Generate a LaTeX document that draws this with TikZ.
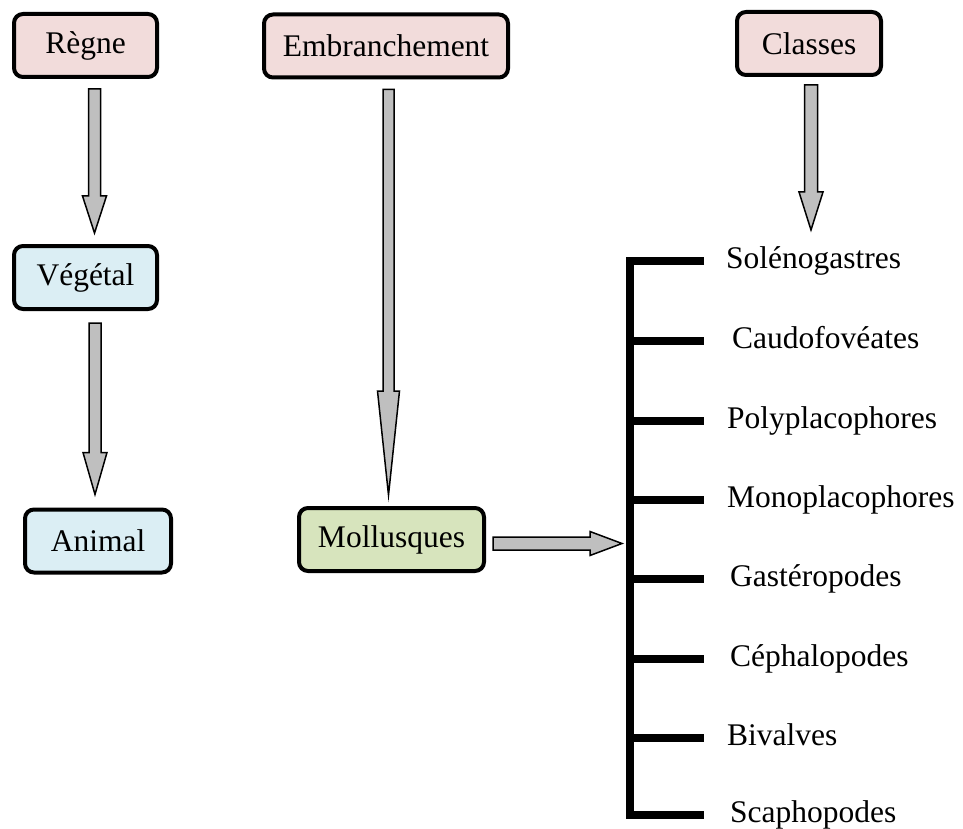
\documentclass[tikz,border=0pt]{standalone}
\usepackage{fontspec}
\setmainfont{Liberation Serif}
\usetikzlibrary{calc,positioning}
\definecolor{pinkbox}{HTML}{F2DCDB}
\definecolor{bluebox}{HTML}{DBEEF4}
\definecolor{greenbox}{HTML}{D7E4BD}
\definecolor{arrowgray}{HTML}{BFBFBF}
\tikzset{
  box/.style={rectangle, rounded corners=9pt, draw=black, line width=4pt,
              minimum height=63pt, inner sep=0pt, font=\fontsize{31.5}{38}\selectfont},
  rankbox/.style={box, fill=pinkbox},
  kingdombox/.style={box, fill=bluebox},
  phylumbox/.style={box, fill=greenbox},
  blockarrow/.style={draw=black, fill=arrowgray, line width=1.5pt, line join=miter},
  classe/.style={anchor=west, inner sep=0pt, text height=22pt, text depth=7pt,
                 font=\fontsize{31.5}{38}\selectfont},
  spine/.style={draw=black, line width=8pt, line join=miter}
}
% block arrows: #1 start, #2 tip, #3 head length, #4 half shaft, #5 half head
\newcommand{\downblock}[5]{%
  \draw[blockarrow] ($(#1)+(-#4,0)$) -- ($(#2)+(-#4,-#3)$) -- ($(#2)+(-#5,-#3)$) -- (#2)
    -- ($(#2)+(#5,-#3)$) -- ($(#2)+(#4,-#3)$) -- ($(#1)+(#4,0)$) -- cycle;}
\newcommand{\rightblock}[5]{%
  \draw[blockarrow] ($(#1)+(0,-#4)$) -- ($(#2)+(-#3,-#4)$) -- ($(#2)+(-#3,-#5)$) -- (#2)
    -- ($(#2)+(-#3,#5)$) -- ($(#2)+(-#3,#4)$) -- ($(#1)+(0,#4)$) -- cycle;}

\begin{document}
\begin{tikzpicture}[x=1pt, y=-1pt]
  \useasboundingbox (0,0) rectangle (963,829);

  % Rank headers.
  \node[rankbox, minimum width=143pt] (regne) at (85.5,45.5) {Règne};
  \node[rankbox, minimum width=244pt] (embr) at (386,46) {Embranchement};
  \node[rankbox, minimum width=144pt] (classes) at (809,43.5) {Classes};

  % Kingdoms and phylum.
  \node[kingdombox, minimum width=143pt] (vegetal) at (85.5,277.5) {Végétal};
  \node[kingdombox, minimum width=146pt] (animal) at (98,541) {Animal};
  \node[phylumbox, minimum width=185pt] (moll) at (391.5,539.5) {Mollusques};

  % Class names.
  \node[classe] (sol) at (726,261) {Solénogastres};
  \node[classe] (cau) at (732,341) {Caudofovéates};
  \node[classe] (pol) at (727,421) {Polyplacophores};
  \node[classe] (mon) at (727,500) {Monoplacophores};
  \node[classe] (gas) at (730,579) {Gastéropodes};
  \node[classe] (cep) at (730,659) {Céphalopodes};
  \node[classe] (biv) at (727,738) {Bivalves};
  \node[classe] (sca) at (730,815) {Scaphopodes};

  % Draw bracket.
  \coordinate (spine) at (630,0);
  \coordinate (tickend) at (704,0);
  \draw[spine] (tickend |- sol.west) -- (spine |- sol.west) -- (spine |- sca.west) -- (tickend |- sca.west);
  \draw[spine] (spine |- cau.west) -- (tickend |- cau.west);
  \draw[spine] (spine |- pol.west) -- (tickend |- pol.west);
  \draw[spine] (spine |- mon.west) -- (tickend |- mon.west);
  \draw[spine] (spine |- gas.west) -- (tickend |- gas.west);
  \draw[spine] (spine |- cep.west) -- (tickend |- cep.west);
  \draw[spine] (spine |- biv.west) -- (tickend |- biv.west);

  % Draw block arrows.
  \coordinate (s1) at ($(regne.south)+(9,10)$);
  \coordinate (t1) at ($(s1 |- vegetal.north)+(0,-11)$);
  \downblock{s1}{t1}{37}{6}{12}
  \coordinate (s2) at ($(vegetal.south)+(9.5,12)$);
  \coordinate (t2) at ($(s2 |- animal.north)+(0,-13)$);
  \downblock{s2}{t2}{42}{6}{12}
  \coordinate (s3) at ($(embr.south)+(2.5,10)$);
  \coordinate (t3) at ($(s3 |- moll.north)+(0,-11)$);
  \downblock{s3}{t3}{104}{5.5}{11}
  \coordinate (s4) at ($(classes.south)+(2,8)$);
  \coordinate (t4) at ($(s4 |- sol.west)+(0,-31)$);
  \downblock{s4}{t4}{38}{6.5}{12}
  \coordinate (s5) at ($(moll.east)+(7,4)$);
  \coordinate (t5) at ($(spine |- s5)+(-8,0)$);
  \rightblock{s5}{t5}{32}{6.5}{12}
\end{tikzpicture}
\end{document}
